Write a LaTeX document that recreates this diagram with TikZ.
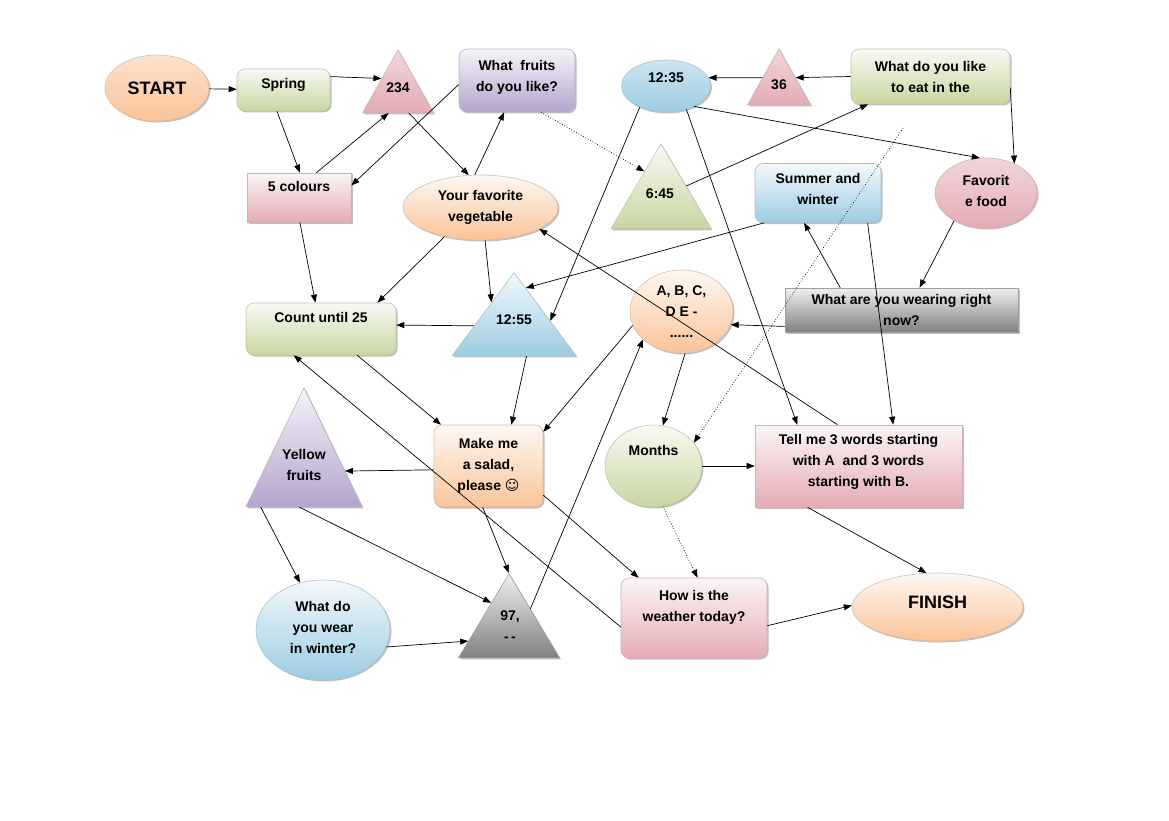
\documentclass[tikz,border=0pt]{standalone}
\usepackage{fontspec}
\setmainfont{Liberation Sans}
\newfontfamily\symbolfont{DejaVu Sans}
\usetikzlibrary{arrows.meta, shapes.geometric, shadows, calc}
\definecolor{PeachOrange}{RGB}{250,196,152}
\definecolor{SageGreen}{RGB}{200,214,160}
\definecolor{RosePink}{RGB}{228,172,180}
\definecolor{LilacPurple}{RGB}{180,164,204}
\definecolor{SkyBlue}{RGB}{156,204,226}
\definecolor{SteelGray}{RGB}{128,128,128}

\begin{document}
\begin{tikzpicture}[
    x=1pt, y=-1pt,
    font=\fontsize{14}{21}\selectfont\bfseries,
    card/.style={rectangle, rounded corners=8pt, draw=#1!75!black!60, line width=0.6pt,
        top color=#1!12, bottom color=#1, align=center, inner sep=2pt,
        drop shadow={shadow xshift=1.5pt, shadow yshift=-1.5pt, opacity=0.5}},
    plate/.style={card=#1, sharp corners},
    oval/.style={ellipse, draw=#1!75!black!60, line width=0.6pt,
        top color=#1!12, bottom color=#1, align=center, inner sep=0pt,
        drop shadow={shadow xshift=1.5pt, shadow yshift=-1.5pt, opacity=0.5}},
    peak/.style={isosceles triangle, shape border rotate=90, isosceles triangle stretches,
        anchor=apex, inner sep=0pt, draw=#1!75!black!60, line width=0.6pt,
        top color=#1!12, bottom color=#1,
        drop shadow={shadow xshift=1.5pt, shadow yshift=-1.5pt, opacity=0.5}},
    tinted/.style={top color=#1!50},
    caption/.style={inner sep=0pt, align=center},
    link/.style={-{Triangle[length=8pt, width=6pt]}, line width=0.7pt},
    dots/.style={link, dotted},
]
\path[use as bounding box, fill=white] (0,0) rectangle (1169,821);

% --- top row ---
\node[oval=PeachOrange, tinted=PeachOrange, minimum width=104, minimum height=66,
    font=\fontsize{18}{21}\selectfont\bfseries] (start) at (157,88) {START};
\node[card=SageGreen, minimum width=93, minimum height=42, text depth=14pt] (spring) at (283.5,90) {Spring};
\node[peak=RosePink, tinted=RosePink, minimum width=71, minimum height=63] (n234) at (398,49) {};
\node[caption] (n234-txt) at (398,88) {234};
\node[card=LilacPurple, minimum width=116, minimum height=63, text depth=10pt] (fruits) at (517,80.5)
    {What \ fruits\\do you like?};
\node[oval=SkyBlue, tinted=SkyBlue, minimum width=89, minimum height=52, text depth=16pt] (t1235) at (666,86) {12:35};
\node[peak=RosePink, tinted=RosePink, minimum width=63, minimum height=56] (n36) at (779,48) {};
\node[caption] (n36-txt) at (779,85) {36};
\node[card=SageGreen, minimum width=159, minimum height=55] (eat) at (930.5,76.5)
    {What do you like\\to eat in the};

% --- second row ---
\node[plate=RosePink, minimum width=104, minimum height=49, text depth=22pt] (colours) at (299,197.5) {5 colours};
\node[oval=PeachOrange, minimum width=155, minimum height=65, text depth=4pt] (veg) at (480.5,207.5)
    {Your favorite\\vegetable};
\node[peak=SageGreen, minimum width=100, minimum height=85] (t645) at (661,143) {};
\node[caption] (t645-txt) at (660,194) {6:45};
\node[card=SkyBlue, minimum width=126, minimum height=59, text depth=9pt] (summer) at (818,193)
    {Summer and\\winter};
\node[oval=RosePink, tinted=RosePink, minimum width=102, minimum height=70, text depth=4pt] (food) at (986,193)
    {Favorit\\e food};

% --- third row ---
\node[card=SageGreen, minimum width=150, minimum height=52, text depth=24pt] (count) at (321,329) {Count until 25};
\node[peak=SkyBlue, minimum width=124, minimum height=83] (t1255) at (514,272) {};
\node[caption] (t1255-txt) at (514,320) {12:55};
\node[oval=PeachOrange, minimum width=103, minimum height=83] (abc) at (681.5,311.5)
    {A, B, C,\\D E -\\......};
\node[plate=SteelGray, minimum width=233, minimum height=44] (wear) at (901.5,310)
    {What are you wearing right\\now?};

% --- fourth row ---
\node[peak=LilacPurple, minimum width=116, minimum height=119] (yellow) at (304,387) {};
\node[caption] (yellow-txt) at (304,465) {Yellow\\fruits};
\node[card=PeachOrange, minimum width=109, minimum height=82, text depth=4pt] (salad) at (488.5,466)
    {Make me\\a salad,\\please {\symbolfont ☺}};
\node[oval=SageGreen, minimum width=97, minimum height=82, text depth=32pt] (months) at (653.5,466) {Months};
\node[plate=RosePink, minimum width=207, minimum height=82, text depth=11pt] (tell) at (858.5,466)
    {Tell me 3 words starting\\with A \ and 3 words\\starting with B.};

% --- bottom row ---
\node[oval=SkyBlue, minimum width=134, minimum height=100, text depth=6pt] (winter) at (323,630)
    {What do\\you wear\\in winter?};
\node[peak=SteelGray, minimum width=101, minimum height=84] (t97) at (509,573) {};
\node[caption] (t97-txt) at (510,626) {97,\\-\,-};
\node[card=RosePink, minimum width=146, minimum height=80, text depth=24pt] (weather) at (694,618)
    {How is the\\weather today?};
\node[oval=PeachOrange, minimum width=171, minimum height=68, text depth=10pt,
    font=\fontsize{18}{21}\selectfont\bfseries] (finish) at (937.5,607) {FINISH};

% --- connectors ---
\draw[link] (start) -- (spring);
\draw[link] (spring.16) -- ($(n234.apex)!0.46!(n234.left corner)$);
\draw[link] (spring.253) -- (colours.88);
\draw[link] (colours.55) -- ($(n234.left corner)!0.37!(n234.right corner)$);
\draw[link] (fruits.184) -- (colours.13);
\draw[link] ($(n234.left corner)!0.65!(n234.right corner)$) -- (veg.110);
\draw[link] (veg.100) -- (fruits.248);
\draw[dots] (fruits.307) -- ($(t645.apex)!0.33!(t645.left corner)$);
\draw[link] ($(n36.apex)!0.52!(n36.left corner)$) -- (t1235.11);
\draw[link] (eat.west) -- ($(n36.apex)!0.52!(n36.right corner)$);
\draw[link] ($(t645.apex)!0.5!(t645.right corner)$) -- (eat.204);
\draw[link] (t1235.324) -- (food.100);
\draw[link] (eat.352) -- (food.46);
\draw[link] (t1235.219) -- ($(t1255.apex)!0.58!(t1255.right corner)$);
\draw[link] (t1235.311) -- (tell.146);
\draw[link] (summer.209) -- ($(t1255.apex)!0.19!(t1255.right corner)$);
\draw[link] (summer.329) -- (tell.50);
\draw[link] (wear.160) -- (summer.245);
\draw[link] (food.221) -- (wear.51);
\draw[link] (wear.188) -- (abc.345);
\coordinate (drift) at (903,128);
\draw[dots] (drift) -- (months.30);
\draw[link] (tell.117) -- (veg.340);
\draw[link] (veg.219) -- (count.25);
\draw[link] (colours.272) -- (count.102);
\draw[link] (veg.278) -- ($(t1255.apex)!0.36!(t1255.left corner)$);
\draw[link] ($(t1255.apex)!0.64!(t1255.left corner)$) -- (count.3);
\draw[link] (count.324) -- (salad.139);
\draw[link] ($(t1255.left corner)!0.6!(t1255.right corner)$) -- (salad.61);
\draw[link] (abc.196) -- (salad.32);
\draw[link] ($(t97.apex)!0.42!(t97.right corner)$) -- (abc.216);
\draw[link] (abc.275) -- (months.77);
\draw[link] (salad.184) -- ($(yellow.apex)!0.7!(yellow.right corner)$);
\draw[link] (weather.187) -- (count.224);
\draw[link] (salad.332) -- (weather.144);
\draw[link] (salad.262) -- (t97.apex);
\draw[link] ($(yellow.left corner)!0.13!(yellow.right corner)$) -- (winter.116);
\draw[link] ($(yellow.left corner)!0.46!(yellow.right corner)$) -- ($(t97.apex)!0.35!(t97.left corner)$);
\draw[link] (winter.345) -- ($(t97.apex)!0.8!(t97.left corner)$);
\draw[link] (months) -- (tell);
\draw[dots] (months.283) -- (weather.85);
\draw[link] (tell.219) -- (finish.108);
\draw[link] (weather.354) -- (finish.179);

\end{tikzpicture}
\end{document}
